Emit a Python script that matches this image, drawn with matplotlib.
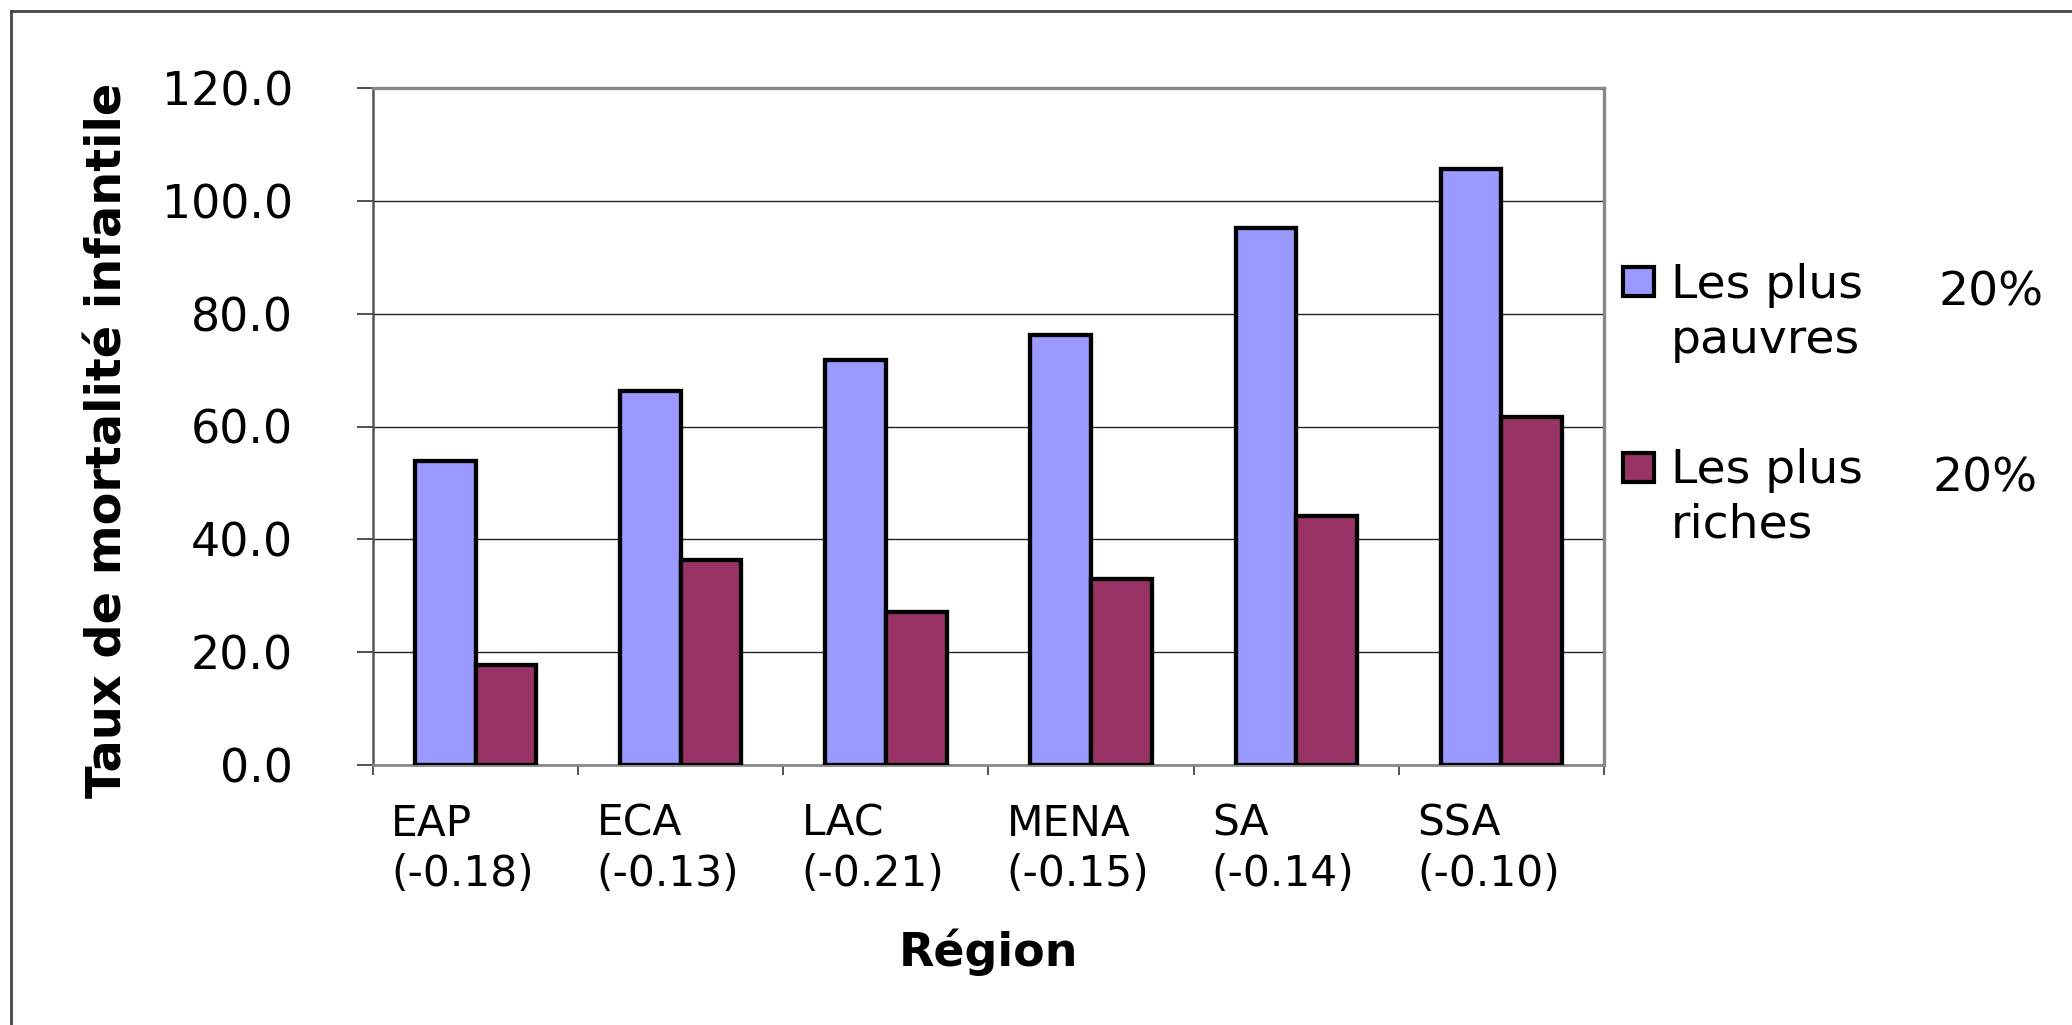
import matplotlib
matplotlib.use("Agg")
import matplotlib.pyplot as plt
import matplotlib.transforms as mtransforms
import numpy as np
from matplotlib.patches import Rectangle
from matplotlib.lines import Line2D

# données
regions = ["EAP", "ECA", "LAC", "MENA", "SA", "SSA"]
coeffs = ["(-0.18)", "(-0.13)", "(-0.21)", "(-0.15)", "(-0.14)", "(-0.10)"]
pauvres = [53.9, 66.3, 71.7, 76.2, 95.1, 105.7]
riches = [17.8, 36.3, 27.2, 33.0, 44.1, 61.6]
yticks = [0, 20, 40, 60, 80, 100, 120]

W, H = 2072, 1025
col_pauvres = "#9999FF"
col_riches = "#993366"

plt.rcParams["font.family"] = ["DejaVu Sans"]

fig = plt.figure(figsize=(W / 100, H / 100), dpi=100)
fig.patch.set_facecolor("white")


def fx(px):
    return px / W


def fy(py):
    return 1 - py / H


# zone de tracé
left, right, top, bottom = 373, 1604, 88, 765
ax = fig.add_axes([fx(left), fy(bottom), fx(right - left), (bottom - top) / H])

x = np.arange(len(regions))
bw = 0.296
ax.bar(x - bw / 2, pauvres, bw, color=col_pauvres, edgecolor="black", linewidth=3.1, zorder=3)
ax.bar(x + bw / 2, riches, bw, color=col_riches, edgecolor="black", linewidth=3.1, zorder=3)

ax.set_xlim(-0.5, len(regions) - 0.5)
ax.set_ylim(0, 120)
ax.set_yticks(yticks)
ax.set_yticklabels(["%.1f" % v for v in yticks], fontsize=33)
ax.yaxis.grid(True, color="#222222", linewidth=1.0)
ax.set_axisbelow(True)

ax.set_xticks(x)
ax.set_xticklabels([r + "\n" + c for r, c in zip(regions, coeffs)], fontsize=30.5,
                   multialignment="left", linespacing=1.25)
ax.set_xticks(np.arange(-0.5, len(regions)), minor=True)
ax.tick_params(axis="x", which="major", length=0, pad=27)
ax.tick_params(axis="x", which="minor", length=7, width=1.2, color="#333333", direction="out")
ax.tick_params(axis="y", length=11.5, width=1.2, color="#333333", direction="out", pad=46)

# les étiquettes de régions sont un peu décalées vers la gauche
shift = mtransforms.ScaledTranslation(-0.13, 0, fig.dpi_scale_trans)
for lab in ax.get_xticklabels():
    lab.set_transform(lab.get_transform() + shift)

for side in ["top", "right"]:
    ax.spines[side].set_color("#888888")
    ax.spines[side].set_linewidth(2.4)
ax.spines["bottom"].set_color("#888888")
ax.spines["bottom"].set_linewidth(2.0)
ax.spines["left"].set_color("#555555")
ax.spines["left"].set_linewidth(1.8)

ax.set_xlabel("Région", fontsize=33, fontweight="bold")
ax.xaxis.set_label_coords(0.5, -0.242)
ax.xaxis.label.set_va("top")

fig.text(fx(108), fy(440), "Taux de mortalité infantile", rotation=90, fontsize=34.5,
         fontweight="bold", ha="center", va="center")

# légende faite à la main
legend = [
    (col_pauvres, "Les plus\npauvres", 267, 298, 1939, 305),
    (col_riches, "Les plus\nriches", 453, 483, 1932, 491),
]
for col, lab, sq_top, base, px20, base20 in legend:
    fig.add_artist(Rectangle((fx(1623), fy(sq_top + 29)), fx(31), 29 / H,
                             facecolor=col, edgecolor="black", linewidth=3.0,
                             transform=fig.transFigure))
    fig.text(fx(1671), fy(base), lab.split("\n")[0], fontsize=34, va="baseline", ha="left")
    fig.text(fx(1671), fy(base + 55), lab.split("\n")[1], fontsize=34, va="baseline", ha="left")
    fig.text(fx(px20), fy(base20), "20%", fontsize=34, va="baseline", ha="left")

# cadre extérieur (gauche et haut)
fig.add_artist(Line2D([fx(11), fx(11)], [fy(11), 0], color="#444444", linewidth=2.0,
                      transform=fig.transFigure))
fig.add_artist(Line2D([fx(11), 1], [fy(11), fy(11)], color="#444444", linewidth=2.0,
                      transform=fig.transFigure))

fig.savefig("out.png", dpi=100)
